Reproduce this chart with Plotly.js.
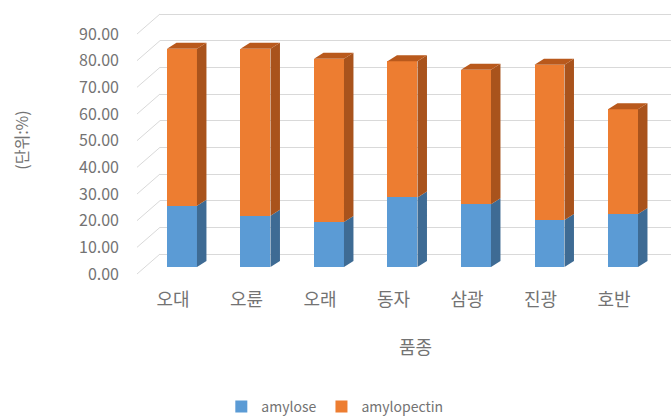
<!DOCTYPE html>
<html>
<head>
<meta charset="utf-8">
<script src="https://cdn.plot.ly/plotly-3.0.1.min.js"></script>
<style>html,body{margin:0;padding:0;background:#fff;}#chart{width:671px;height:416px;}</style>
</head>
<body>
<div id="chart"></div>
<script>
const categories = ['오대', '오륜', '오래', '동자', '삼광', '진광', '호반'];
const amylose = [23.0, 19.2, 16.9, 26.1, 23.5, 17.6, 19.9];
const amylopectin = [58.9, 62.7, 61.2, 51.1, 50.5, 58.3, 39.3];
const yTicks = [0, 10, 20, 30, 40, 50, 60, 70, 80, 90];
const yTickText = yTicks.map(v => v.toFixed(2));
const seriesNames = ['amylose', 'amylopectin'];

const FONT = '"Noto Sans CJK KR", "Noto Sans", sans-serif';
const TXT = '#737373';
const BLUE = '#5b9bd5', BLUE_SIDE = '#3e6b94';
const ORANGE = '#ed7d31', ORANGE_SIDE = '#a9531c', ORANGE_TOP = '#b9591c';
const W = 0.408;      // bar width (category units)
const DX = 0.129;     // depth offset x
const DY = 2.25;      // depth offset y
const xIdx = categories.map((c, i) => i);

function sidePolys(lo, hi) {
  const xs = [], ys = [];
  xIdx.forEach(i => {
    const xr = i + W / 2;
    xs.push(xr, xr + DX, xr + DX, xr, xr, null);
    ys.push(lo[i], lo[i] + DY, hi[i] + DY, hi[i], lo[i], null);
  });
  return {xs, ys};
}
function topPolys(t) {
  const xs = [], ys = [];
  xIdx.forEach(i => {
    const xl = i - W / 2, xr = i + W / 2;
    xs.push(xl, xl + DX, xr + DX, xr, xl, null);
    ys.push(t[i], t[i] + DY, t[i] + DY, t[i], t[i], null);
  });
  return {xs, ys};
}
const zeros = xIdx.map(() => 0);
const total = xIdx.map(i => amylose[i] + amylopectin[i]);
const sBlue = sidePolys(zeros, amylose);
const sOrange = sidePolys(amylose, total);
const tOrange = topPolys(total);

const traces = [
  {type: 'bar', name: seriesNames[0], x: xIdx, y: amylose, width: W,
   marker: {color: BLUE, line: {width: 0}}, hoverinfo: 'y'},
  {type: 'bar', name: seriesNames[1], x: xIdx, y: amylopectin, width: W,
   marker: {color: ORANGE, line: {width: 0}}, hoverinfo: 'y'},
  {type: 'scatter', mode: 'lines', x: sBlue.xs, y: sBlue.ys, fill: 'toself',
   fillcolor: BLUE_SIDE, line: {width: 0, color: BLUE_SIDE}, showlegend: false, hoverinfo: 'skip'},
  {type: 'scatter', mode: 'lines', x: sOrange.xs, y: sOrange.ys, fill: 'toself',
   fillcolor: ORANGE_SIDE, line: {width: 0, color: ORANGE_SIDE}, showlegend: false, hoverinfo: 'skip'},
  {type: 'scatter', mode: 'lines', x: tOrange.xs, y: tOrange.ys, fill: 'toself',
   fillcolor: ORANGE_TOP, line: {width: 0, color: ORANGE_TOP}, showlegend: false, hoverinfo: 'skip'},
  {type: 'scatter', x: [], y: [], yaxis: 'y2', showlegend: false, hoverinfo: 'skip'}
];

const Y2MIN = -6, Y2MAX = 91.5;
const shapes = yTicks.map(v => ({
  type: 'line', xref: 'paper', yref: 'paper',
  x0: -0.045, x1: 0,
  y0: (v - 7.5 - Y2MIN) / (Y2MAX - Y2MIN), y1: (v - Y2MIN) / (Y2MAX - Y2MIN),
  line: {color: '#d9d9d9', width: 1}
}));

const layout = {
  width: 671, height: 416,
  margin: {l: 160, r: 0, t: 10, b: 146, autoexpand: false},
  paper_bgcolor: '#ffffff', plot_bgcolor: 'rgba(0,0,0,0)',
  barmode: 'stack',
  font: {family: FONT, color: TXT, size: 14},
  showlegend: true,
  legend: {orientation: 'h', x: 0.12, xanchor: 'left', y: -0.527, yanchor: 'middle',
           font: {size: 14, color: TXT}, traceorder: 'normal', itemwidth: 30},
  xaxis: {
    range: [-0.299, 6.653], tickmode: 'array', tickvals: xIdx, ticktext: categories,
    showgrid: false, zeroline: false, showline: false, ticks: '',
    tickfont: {size: 18, color: TXT}, ticklabelshift: -9, ticklabelstandoff: 17,
    title: {text: '품종', font: {size: 18, color: TXT}, standoff: 31},
    fixedrange: true
  },
  yaxis: {
    range: [-1.125, 96.4], tickmode: 'array', tickvals: yTicks, ticktext: yTickText,
    showgrid: false, zeroline: false, showline: false, ticks: '',
    tickfont: {size: 16, color: TXT}, ticklabelshift: 7, ticklabelstandoff: 40,
    title: {text: '(단위:%)', font: {size: 16, color: TXT}, standoff: 46},
    fixedrange: true
  },
  yaxis2: {
    overlaying: 'y', side: 'left', anchor: 'x', range: [Y2MIN, Y2MAX],
    tickmode: 'array', tickvals: yTicks, showticklabels: false,
    showgrid: true, gridcolor: '#d9d9d9', gridwidth: 1, zeroline: false, showline: false, ticks: '',
    fixedrange: true
  },
  shapes: shapes
};

Plotly.newPlot('chart', traces, layout, {displayModeBar: false, staticPlot: true});
</script>
</body>
</html>
